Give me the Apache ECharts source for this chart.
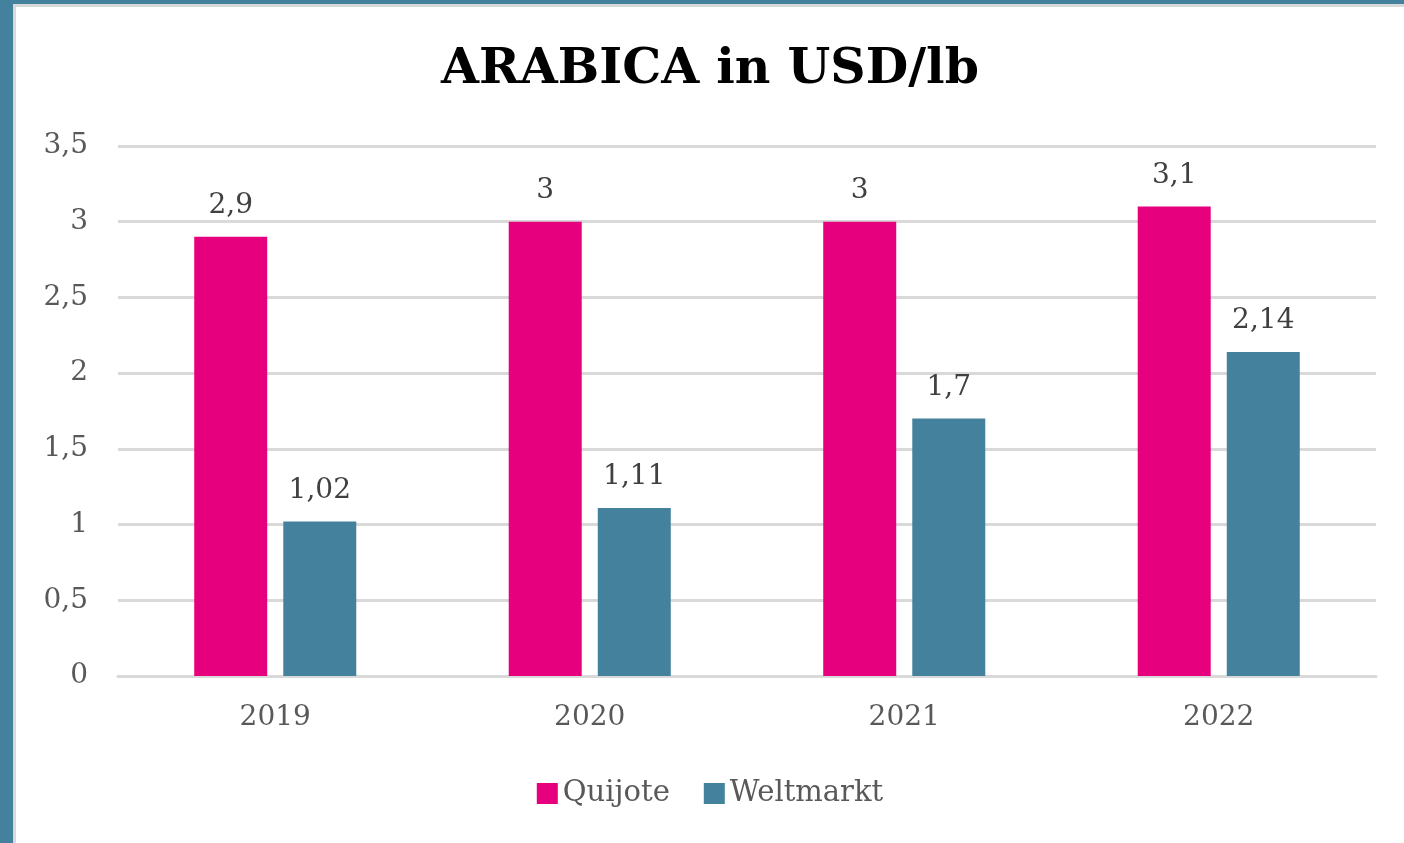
<!DOCTYPE html>
<html>
<head>
<meta charset="utf-8">
<script src="https://cdn.jsdelivr.net/npm/echarts@6/dist/echarts.min.js"></script>
<style>
  html, body { margin: 0; padding: 0; background: #44819c; }
  #frame { position: absolute; left: 13px; top: 4px; width: 1391px; height: 839px; background: #d9d9d9; }
  #main { position: absolute; left: 3px; top: 3px; width: 1388px; height: 836px; background: #fff; }
</style>
</head>
<body>
<div id="frame"><div id="main"></div></div>
<script>
// Daten
var years = ['2019', '2020', '2021', '2022'];
var quijote = [2.9, 3, 3, 3.1];
var weltmarkt = [1.02, 1.11, 1.7, 2.14];
var seriesNames = ['Quijote', 'Weltmarkt'];

var slab = '"DejaVu Serif", "Liberation Serif", serif';
function komma(v) { return String(v).replace('.', ','); }

var myChart = echarts.init(document.getElementById('main'));
myChart.setOption({
  color: ['#e6007e', '#44819c'],
  animation: false,
  title: {
    text: 'ARABICA in USD/lb',
    left: 'center',
    top: 34,
    textStyle: { fontFamily: slab, fontWeight: 'bold', fontSize: 49, color: '#000' }
  },
  legend: {
    data: seriesNames,
    bottom: 30,
    left: 'center',
    icon: 'rect',
    itemWidth: 21,
    itemHeight: 21,
    itemGap: 34,
    textStyle: { fontFamily: slab, fontSize: 29, color: '#595959' }
  },
  grid: { left: 102, right: 28, top: 139, bottom: 167 },
  xAxis: {
    type: 'category',
    data: years,
    axisLine: { lineStyle: { color: '#d9d9d9', width: 3 } },
    axisTick: { show: false },
    axisLabel: { fontFamily: slab, fontSize: 28, color: '#595959', margin: 28 }
  },
  yAxis: {
    type: 'value',
    min: 0,
    max: 3.5,
    interval: 0.5,
    axisLine: { show: false },
    axisTick: { show: false },
    splitLine: { lineStyle: { color: '#d9d9d9', width: 3 } },
    axisLabel: { fontFamily: slab, fontSize: 28, color: '#595959', margin: 30, formatter: komma }
  },
  series: [
    {
      name: seriesNames[0],
      type: 'bar',
      data: quijote,
      barWidth: 73,
      barGap: '22%',
      label: { show: true, position: 'top', distance: 17, fontFamily: slab, fontSize: 28, color: '#404040',
        formatter: function (p) { return komma(p.value); } }
    },
    {
      name: seriesNames[1],
      type: 'bar',
      data: weltmarkt,
      barWidth: 73,
      barGap: '22%',
      label: { show: true, position: 'top', distance: 17, fontFamily: slab, fontSize: 28, color: '#404040',
        formatter: function (p) { return komma(p.value); } }
    }
  ]
});
</script>
</body>
</html>
